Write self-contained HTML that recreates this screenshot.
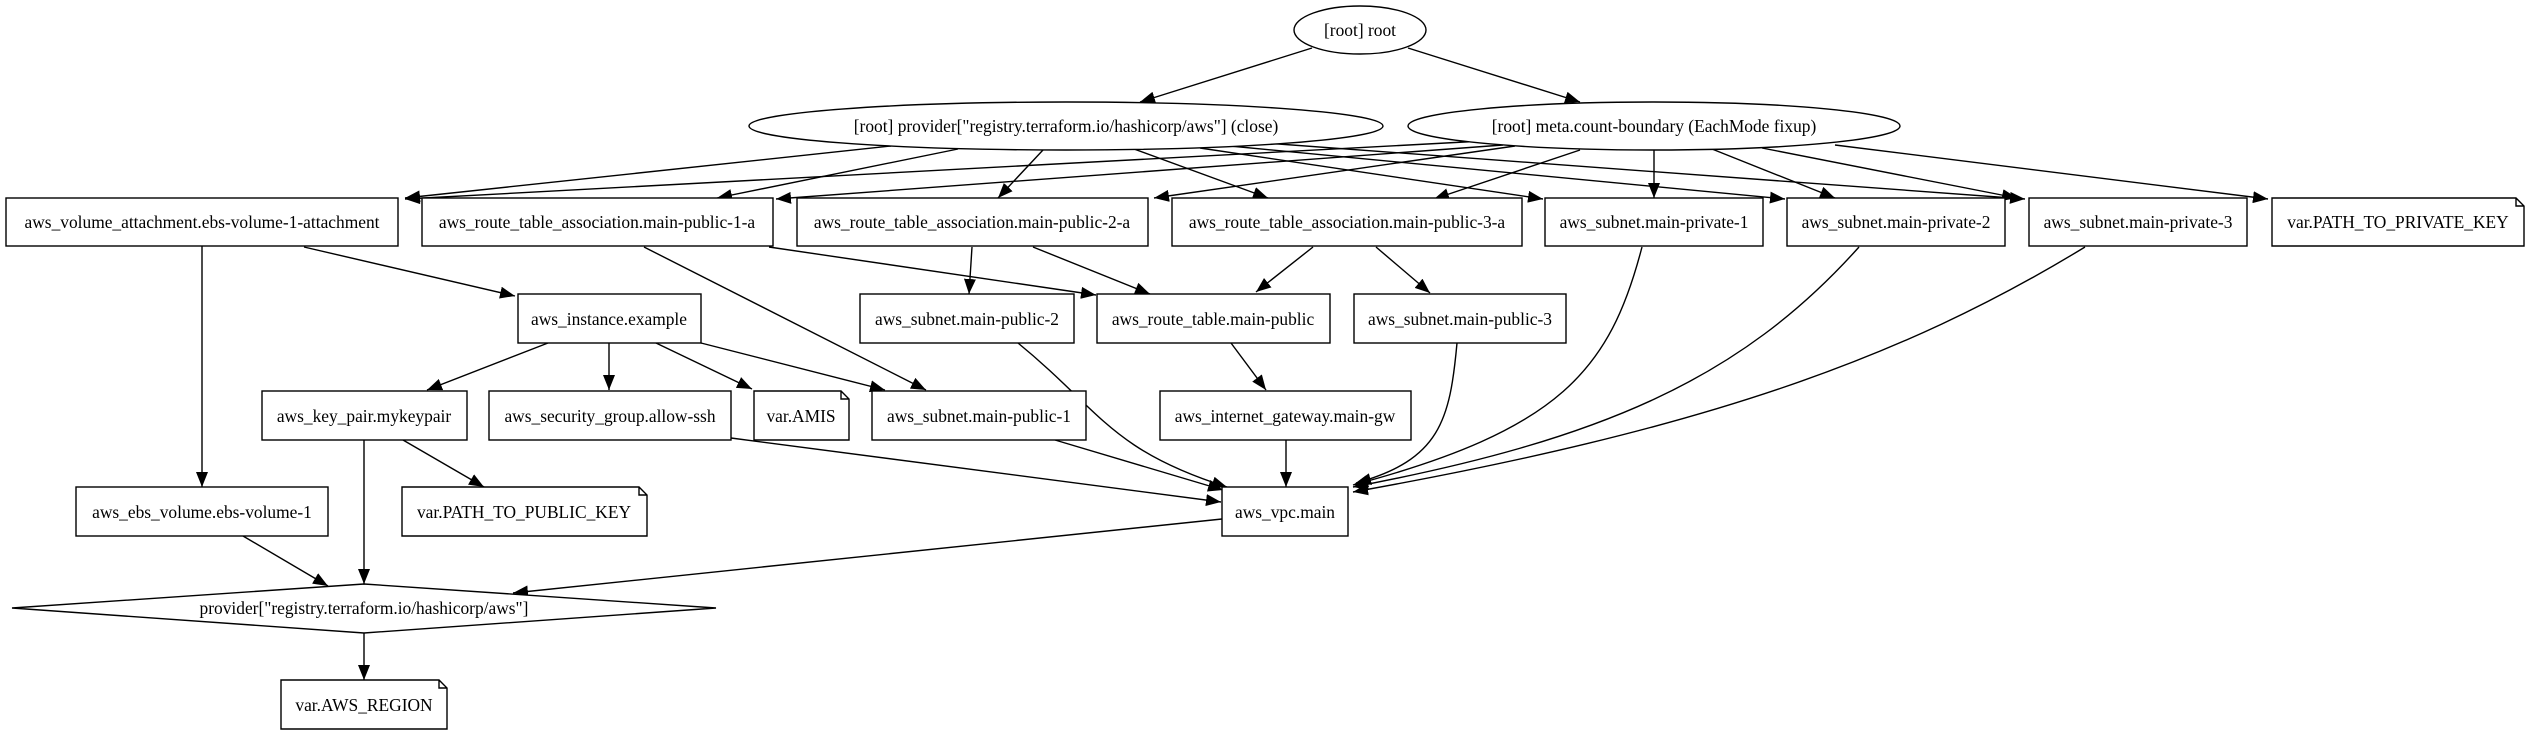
<!DOCTYPE html>
<html><head><meta charset="utf-8"><style>
html,body{margin:0;padding:0;background:#fff;}
svg{display:block;}
text{font-family:"Liberation Serif",serif;font-size:17.4px;text-anchor:middle;fill:#000;}
</style></head><body>
<svg width="2533" height="731" viewBox="0 0 2533 731" xmlns="http://www.w3.org/2000/svg">
<defs>
<marker id="a" markerWidth="16" markerHeight="12" refX="15" refY="6" orient="auto" markerUnits="userSpaceOnUse">
<path d="M0,0 L15,6 L0,12 Z" fill="#000"/>
</marker>
</defs>
<g fill="none" stroke="#000" stroke-width="1.4" marker-end="url(#a)">
<line x1="1312" y1="48" x2="1140" y2="102"/>
<line x1="1408" y1="48" x2="1580" y2="102"/>
<line x1="891" y1="146" x2="405" y2="198"/>
<line x1="958" y1="149" x2="717" y2="198"/>
<line x1="1043" y1="150" x2="998" y2="198"/>
<line x1="1134" y1="149" x2="1268" y2="198"/>
<line x1="1200" y1="148" x2="1543" y2="199"/>
<line x1="1230" y1="146" x2="1785" y2="199"/>
<line x1="1265" y1="143" x2="2025" y2="199"/>
<line x1="1483" y1="141" x2="405" y2="199"/>
<line x1="1503" y1="145" x2="776" y2="199"/>
<line x1="1515" y1="146" x2="1154" y2="198"/>
<line x1="1580" y1="150" x2="1434" y2="199"/>
<line x1="1654" y1="150" x2="1654" y2="198"/>
<line x1="1712" y1="149" x2="1835" y2="198"/>
<line x1="1762" y1="148" x2="2017" y2="198"/>
<line x1="1835" y1="145" x2="2268" y2="199"/>
<line x1="202" y1="246" x2="202" y2="487"/>
<line x1="304" y1="247" x2="515" y2="296"/>
<line x1="769" y1="247" x2="1096" y2="295"/>
<line x1="644" y1="247" x2="926" y2="390"/>
<line x1="972" y1="247" x2="969" y2="294"/>
<line x1="1033" y1="247" x2="1150" y2="294"/>
<line x1="1313" y1="247" x2="1256" y2="292"/>
<line x1="1376" y1="247" x2="1430" y2="293"/>
<path d="M1642,247 C1610,370 1560,430 1353,485"/>
<path d="M1859,247 C1740,380 1600,440 1353,487"/>
<path d="M2085,247 C1900,360 1700,430 1353,492"/>
<path d="M1457,343 C1450,420 1440,460 1356,483"/>
<line x1="1231" y1="343" x2="1266" y2="390"/>
<path d="M1018,343 C1100,410 1110,450 1227,487"/>
<line x1="548" y1="343" x2="427" y2="390"/>
<line x1="609" y1="343" x2="609" y2="390"/>
<line x1="656" y1="343" x2="752" y2="389"/>
<line x1="701" y1="343" x2="885" y2="390"/>
<line x1="1286" y1="440" x2="1286" y2="487"/>
<line x1="403" y1="440" x2="484" y2="487"/>
<line x1="364" y1="440" x2="364" y2="584"/>
<line x1="731" y1="438" x2="1221" y2="502"/>
<line x1="1055" y1="440" x2="1223" y2="490"/>
<line x1="243" y1="536" x2="328" y2="586"/>
<line x1="1222" y1="519" x2="513" y2="593"/>
<line x1="364" y1="633" x2="364" y2="680"/>
</g>
<g fill="#fff" stroke="#000" stroke-width="1.4">
<ellipse cx="1360" cy="30" rx="66" ry="24"/>
<ellipse cx="1066" cy="126" rx="317" ry="24"/>
<ellipse cx="1654" cy="126" rx="246" ry="24"/>
<rect x="6" y="198" width="392" height="48"/>
<rect x="422" y="198" width="351" height="48"/>
<rect x="797" y="198" width="351" height="48"/>
<rect x="1172" y="198" width="350" height="48"/>
<rect x="1545" y="198" width="218" height="48"/>
<rect x="1787" y="198" width="218" height="48"/>
<rect x="2029" y="198" width="218" height="48"/>
<path d="M2272,198 H2516 L2524,206 V246 H2272 Z M2516,198 V206 H2524"/>
<rect x="518" y="294" width="183" height="49"/>
<rect x="860" y="294" width="214" height="49"/>
<rect x="1097" y="294" width="233" height="49"/>
<rect x="1354" y="294" width="212" height="49"/>
<rect x="262" y="391" width="205" height="49"/>
<rect x="489" y="391" width="242" height="49"/>
<path d="M754,391 H841 L849,399 V440 H754 Z M841,391 V399 H849"/>
<rect x="872" y="391" width="214" height="49"/>
<rect x="1160" y="391" width="251" height="49"/>
<rect x="76" y="487" width="252" height="49"/>
<path d="M402,487 H639 L647,495 V536 H402 Z M639,487 V495 H647"/>
<rect x="1222" y="487" width="126" height="49"/>
<polygon points="364,584 716,608 364,633 12,608"/>
<path d="M281,680 H439 L447,688 V729 H281 Z M439,680 V688 H447"/>
</g>
<text x="1360" y="36">[root] root</text>
<text x="1066" y="132">[root] provider["registry.terraform.io/hashicorp/aws"] (close)</text>
<text x="1654" y="132">[root] meta.count-boundary (EachMode fixup)</text>
<text x="202" y="228">aws_volume_attachment.ebs-volume-1-attachment</text>
<text x="597" y="228">aws_route_table_association.main-public-1-a</text>
<text x="972" y="228">aws_route_table_association.main-public-2-a</text>
<text x="1347" y="228">aws_route_table_association.main-public-3-a</text>
<text x="1654" y="228">aws_subnet.main-private-1</text>
<text x="1896" y="228">aws_subnet.main-private-2</text>
<text x="2138" y="228">aws_subnet.main-private-3</text>
<text x="2398" y="228">var.PATH_TO_PRIVATE_KEY</text>
<text x="609" y="325">aws_instance.example</text>
<text x="967" y="325">aws_subnet.main-public-2</text>
<text x="1213" y="325">aws_route_table.main-public</text>
<text x="1460" y="325">aws_subnet.main-public-3</text>
<text x="364" y="422">aws_key_pair.mykeypair</text>
<text x="610" y="422">aws_security_group.allow-ssh</text>
<text x="801" y="422">var.AMIS</text>
<text x="979" y="422">aws_subnet.main-public-1</text>
<text x="1285" y="422">aws_internet_gateway.main-gw</text>
<text x="202" y="518">aws_ebs_volume.ebs-volume-1</text>
<text x="524" y="518">var.PATH_TO_PUBLIC_KEY</text>
<text x="1285" y="518">aws_vpc.main</text>
<text x="364" y="614">provider["registry.terraform.io/hashicorp/aws"]</text>
<text x="364" y="711">var.AWS_REGION</text>
</svg>
</body></html>
